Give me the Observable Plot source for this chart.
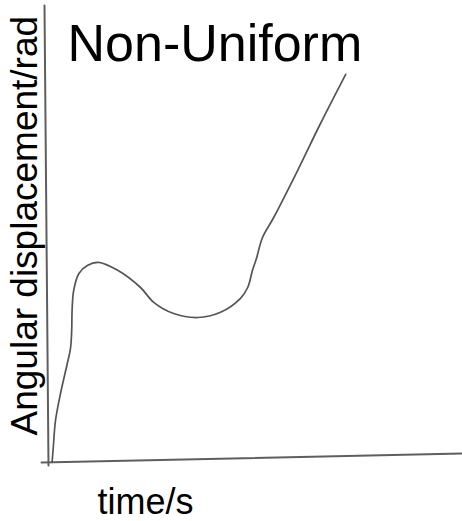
<!DOCTYPE html>
<html><head><meta charset="utf-8">
<script src="https://cdn.jsdelivr.net/npm/d3@7"></script>
<script src="https://cdn.jsdelivr.net/npm/@observablehq/plot@0.6"></script>
<style>body{margin:0;background:#fff}</style>
</head><body><div id="chart"></div>
<script>
// curve: time (s) and angular displacement (rad), arbitrary units
const time  = [0.09, 0.12, 0.175, 0.3, 0.47, 0.55, 0.58, 0.59, 0.63, 0.76, 0.97, 1.25, 1.73, 2.3, 2.63, 3.13, 3.73, 4.3, 4.8, 4.98, 5.1, 5.2, 5.35, 5.63, 6.23, 6.8, 7.43];
const angle = [-0.02, 0.36, 1.025, 1.7, 2.45, 2.83, 3.28, 3.78, 4.28, 4.7, 4.9, 4.98, 4.78, 4.35, 3.98, 3.7, 3.6, 3.73, 4.08, 4.35, 4.78, 5.08, 5.6, 6.1, 7.28, 8.45, 9.68];
// hand-drawn axis lines (endpoints in data units)
const axisXTime  = [-0.175, 10.35];
const axisXAngle = [-0.025, 0.2];
const axisYTime  = [-0.1, 0];
const axisYAngle = [11.4, -0.1];
// texts
const title  = "Non-Uniform";
const xLabel = "time/s";
const yLabel = "Angular displacement/rad";

const curve = time.map((t, i) => ({t, a: angle[i]}));
const xAxisLine = axisXTime.map((t, i) => ({t, a: axisXAngle[i]}));
const yAxisLine = axisYTime.map((t, i) => ({t, a: axisYAngle[i]}));
const font = "Liberation Sans, Arial, Helvetica, sans-serif";

const chart = Plot.plot({
  width: 462, height: 521, margin: 0,
  style: {background: "#fff", fontFamily: font},
  x: {domain: [0, 10], range: [48, 448], axis: null},
  y: {domain: [0, 10], range: [461, 61], axis: null},
  marks: [
    Plot.line(yAxisLine, {x: "t", y: "a", stroke: "#5e5e5e", strokeWidth: 2}),
    Plot.line(xAxisLine, {x: "t", y: "a", stroke: "#5e5e5e", strokeWidth: 2}),
    Plot.line(curve, {x: "t", y: "a", curve: "catmull-rom", stroke: "#555", strokeWidth: 1.7}),
    Plot.text([title], {text: d => d, frameAnchor: "top-left", dx: 67, dy: 60, textAnchor: "start", lineAnchor: "bottom", fontSize: 52, fill: "#000"}),
    Plot.text([xLabel], {text: d => d, frameAnchor: "top-left", dx: 97, dy: 513, textAnchor: "start", lineAnchor: "bottom", fontSize: 36, fill: "#000"}),
    Plot.text([yLabel], {text: d => d, frameAnchor: "top-left", dx: 36, dy: 435, rotate: -90, textAnchor: "start", lineAnchor: "bottom", fontSize: 37, fill: "#000"})
  ]
});
document.getElementById("chart").appendChild(chart);
</script>
</body></html>
